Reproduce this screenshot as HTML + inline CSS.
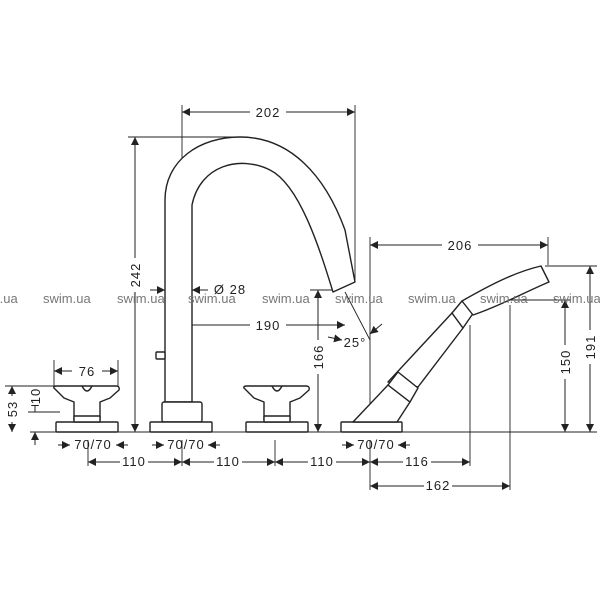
<!DOCTYPE html>
<html><head><meta charset="utf-8"><style>
html,body{margin:0;padding:0;background:#fff;}
svg{display:block;}
text{font-family:"Liberation Sans",sans-serif;}
.d{font-size:13px;fill:#222;letter-spacing:1px;}
.w{font-size:13px;fill:#777;}
</style></head><body>
<svg width="600" height="600" viewBox="0 0 600 600" xmlns="http://www.w3.org/2000/svg">
<defs>
<marker id="a" viewBox="0 0 10 10" refX="10" refY="5" markerWidth="8" markerHeight="8" orient="auto-start-reverse" markerUnits="userSpaceOnUse"><path d="M0,0L10,5L0,10z" fill="#222"/></marker>
</defs>
<g stroke="#222" stroke-width="0.9" fill="none">
<line x1="30" y1="432" x2="597" y2="432"/>
<line x1="182" y1="105" x2="182" y2="163"/>
<line x1="355" y1="105" x2="355" y2="280"/>
<line x1="128" y1="137" x2="245" y2="137"/>
<line x1="370" y1="237" x2="370" y2="420"/>
<line x1="548" y1="237" x2="548" y2="265"/>
<line x1="545" y1="266" x2="597" y2="266"/>
<line x1="480" y1="300" x2="570" y2="300"/>
<line x1="470" y1="325" x2="470" y2="466"/>
<line x1="510" y1="305" x2="510" y2="490"/>
<line x1="182" y1="315" x2="182" y2="400"/>
<line x1="310" y1="290" x2="332" y2="290"/>
<line x1="88" y1="440" x2="88" y2="466"/>
<line x1="182" y1="440" x2="182" y2="466"/>
<line x1="275" y1="440" x2="275" y2="466"/>
<line x1="370" y1="440" x2="370" y2="490"/>
<line x1="54" y1="360" x2="54" y2="386"/>
<line x1="118" y1="360" x2="118" y2="386"/>
<line x1="5" y1="386" x2="55" y2="386"/>
<line x1="28" y1="412" x2="60" y2="412"/>
<line x1="345" y1="292" x2="370" y2="340"/>
</g>
<g stroke="#222" stroke-width="1" fill="none">
<line x1="182" y1="112" x2="355" y2="112" marker-start="url(#a)" marker-end="url(#a)"/>
<line x1="135" y1="137" x2="135" y2="432" marker-start="url(#a)" marker-end="url(#a)"/>
<line x1="370" y1="245" x2="548" y2="245" marker-start="url(#a)" marker-end="url(#a)"/>
<line x1="590" y1="266" x2="590" y2="432" marker-start="url(#a)" marker-end="url(#a)"/>
<line x1="565" y1="300" x2="565" y2="432" marker-start="url(#a)" marker-end="url(#a)"/>
<line x1="318" y1="290" x2="318" y2="432" marker-start="url(#a)" marker-end="url(#a)"/>
<line x1="182" y1="325" x2="345" y2="325" marker-start="url(#a)" marker-end="url(#a)"/>
<line x1="54" y1="371" x2="118" y2="371" marker-start="url(#a)" marker-end="url(#a)"/>
<line x1="12" y1="386" x2="12" y2="432" marker-start="url(#a)" marker-end="url(#a)"/>
<line x1="35" y1="412" x2="35" y2="398" marker-end="url(#a)"/>
<line x1="35" y1="445" x2="35" y2="432" marker-end="url(#a)"/>
<line x1="88" y1="462" x2="182" y2="462" marker-start="url(#a)" marker-end="url(#a)"/>
<line x1="182" y1="462" x2="275" y2="462" marker-start="url(#a)" marker-end="url(#a)"/>
<line x1="275" y1="462" x2="370" y2="462" marker-start="url(#a)" marker-end="url(#a)"/>
<line x1="370" y1="462" x2="470" y2="462" marker-start="url(#a)" marker-end="url(#a)"/>
<line x1="370" y1="486" x2="510" y2="486" marker-start="url(#a)" marker-end="url(#a)"/>
<line x1="150" y1="290" x2="165" y2="290" marker-end="url(#a)"/>
<line x1="208" y1="290" x2="192" y2="290" marker-end="url(#a)"/>
<line x1="328" y1="337" x2="342" y2="340" marker-end="url(#a)"/>
<line x1="382" y1="324" x2="370" y2="334" marker-end="url(#a)"/>
<line x1="58" y1="445" x2="70" y2="445" marker-end="url(#a)"/>
<line x1="128" y1="445" x2="116" y2="445" marker-end="url(#a)"/>
<line x1="152" y1="445" x2="164" y2="445" marker-end="url(#a)"/>
<line x1="220" y1="445" x2="208" y2="445" marker-end="url(#a)"/>
<line x1="342" y1="445" x2="354" y2="445" marker-end="url(#a)"/>
<line x1="410" y1="445" x2="398" y2="445" marker-end="url(#a)"/>
</g>
<g fill="#fff">
<rect x="250" y="104" width="36" height="16"/>
<rect x="442" y="237" width="36" height="16"/>
<rect x="250" y="317" width="36" height="16"/>
<rect x="127" y="258" width="16" height="34"/>
<rect x="582" y="330" width="16" height="34"/>
<rect x="557" y="345" width="16" height="34"/>
<rect x="310" y="340" width="16" height="34"/>
<rect x="4" y="396" width="16" height="26"/>
<rect x="27" y="387" width="16" height="18"/>
<rect x="72" y="364" width="30" height="14"/>
<rect x="120" y="455" width="28" height="14"/>
<rect x="214" y="455" width="28" height="14"/>
<rect x="308" y="455" width="28" height="14"/>
<rect x="403" y="455" width="28" height="14"/>
<rect x="424" y="479" width="28" height="14"/>
</g>
<g stroke="#222" stroke-width="1.4" fill="#fff" stroke-linejoin="round">
<path d="M165,402 L165,200 C165,160 200,137 240,137 C290,137 325,175 345,230 L355,282 L333,292 C320,250 300,185 270,170 C240,155 200,165 192,205 L192,402 Z"/>
<rect x="156" y="352" width="9" height="7" rx="1"/>
<rect x="162" y="402" width="40" height="20" rx="2"/>
<rect x="150" y="422" width="62" height="10" rx="1"/>
<rect x="56" y="422" width="62" height="10" rx="1"/>
<path d="M54,388 Q53,386 57,386 L116,386 Q120,386 119,390 L110,398 L100,402 L100,420 L74,420 L74,402 L64,398 Z"/>
<rect x="74" y="416" width="26" height="6"/>
<path d="M82,386 Q87,396 92,386" fill="none"/>
<rect x="246" y="422" width="62" height="10" rx="1"/>
<path d="M244,388 Q243,386 247,386 L306,386 Q310,386 309,390 L300,398 L290,402 L290,420 L264,420 L264,402 L254,398 Z"/>
<rect x="264" y="416" width="26" height="6"/>
<path d="M272,386 Q277,396 282,386" fill="none"/>
<rect x="341" y="422" width="61" height="10" rx="1"/>
<path d="M353,422 L388,385 L410,402 L397,422 Z"/>
<path d="M388,382 L452,313 L463,328 L418,387 Z"/>
<path d="M398,372 L418,388 L410,402 L388,385 Z"/>
<path d="M452,313 L462,301 L474,312 L463,328 Z"/>
<path d="M462,301 C490,285 515,272 541,266 L549,282 C525,292 500,306 473,315 Z"/>
</g>
<g class="d" text-anchor="middle">
<text x="268" y="117">202</text>
<text x="460" y="250">206</text>
<text x="268" y="330">190</text>
<text x="87" y="376">76</text>
<text x="134" y="466">110</text>
<text x="228" y="466">110</text>
<text x="322" y="466">110</text>
<text x="417" y="466">116</text>
<text x="438" y="490">162</text>
<text x="93" y="449">70/70</text>
<text x="186" y="449">70/70</text>
<text x="376" y="449">70/70</text>
<text x="230" y="294">Ø 28</text>
<text x="355" y="347">25°</text>
<text transform="translate(140,275) rotate(-90)">242</text>
<text transform="translate(595,347) rotate(-90)">191</text>
<text transform="translate(570,362) rotate(-90)">150</text>
<text transform="translate(323,357) rotate(-90)">166</text>
<text transform="translate(17,409) rotate(-90)">53</text>
<text transform="translate(40,396) rotate(-90)">10</text>
</g>
<g class="w">
<text x="-30" y="303">swim.ua</text>
<text x="43" y="303">swim.ua</text>
<text x="117" y="303">swim.ua</text>
<text x="188" y="303">swim.ua</text>
<text x="262" y="303">swim.ua</text>
<text x="335" y="303">swim.ua</text>
<text x="408" y="303">swim.ua</text>
<text x="480" y="303">swim.ua</text>
<text x="553" y="303">swim.ua</text>
</g>
</svg>
</body></html>
